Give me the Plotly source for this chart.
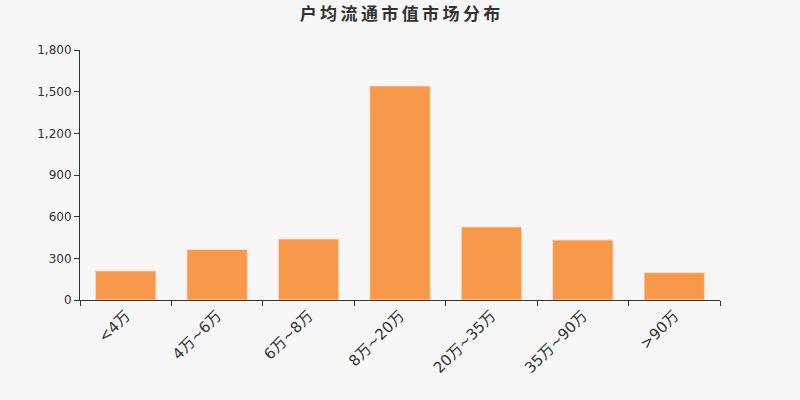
import plotly.graph_objects as go

categories = ["<4万", "4万~6万", "6万~8万", "8万~20万", "20万~35万", "35万~90万", ">90万"]
values = [209, 363, 439, 1541, 526, 432, 196]
title_text = "户均流通市值市场分布"

fig = go.Figure()
fig.add_trace(
    go.Bar(
        x=categories,
        y=values,
        marker=dict(color="#F7984A", line=dict(color="rgba(255,220,190,0.9)", width=1)),
        hoverinfo="x+y",
    )
)

fig.update_layout(
    width=800,
    height=400,
    paper_bgcolor="#F7F7F7",
    plot_bgcolor="#F7F7F7",
    margin=dict(l=80, r=80, t=50, b=100),
    bargap=0.34,
    showlegend=False,
    font=dict(family="DejaVu Sans, Noto Sans CJK SC", color="#333333"),
    title=dict(
        # thin spaces to mimic the wide letter spacing of the original title
        text="<b>" + "\u2009".join(title_text) + "</b>",
        x=0.5,
        xanchor="center",
        y=0.965,
        yanchor="middle",
        font=dict(size=17, color="#333333", family="Noto Sans CJK SC"),
    ),
)
fig.update_xaxes(
    type="category",
    showline=True,
    linecolor="#333333",
    linewidth=1,
    ticks="outside",
    tickson="boundaries",
    ticklen=5,
    tickcolor="#333333",
    tickangle=-45,
    tickfont=dict(size=15, color="#333333", family="DejaVu Sans, Noto Sans CJK SC"),
    showgrid=False,
    zeroline=False,
)
fig.update_yaxes(
    range=[0, 1800],
    tickvals=[0, 300, 600, 900, 1200, 1500, 1800],
    tickformat=",d",
    showline=True,
    linecolor="#333333",
    linewidth=1,
    ticks="outside",
    ticklen=5,
    tickcolor="#333333",
    tickfont=dict(size=12, color="#333333"),
    showgrid=False,
    zeroline=False,
)

fig.write_html(
    "out.html",
    config={"displayModeBar": False},
    post_script="document.body.style.margin='0';document.body.style.overflow='hidden';",
)
